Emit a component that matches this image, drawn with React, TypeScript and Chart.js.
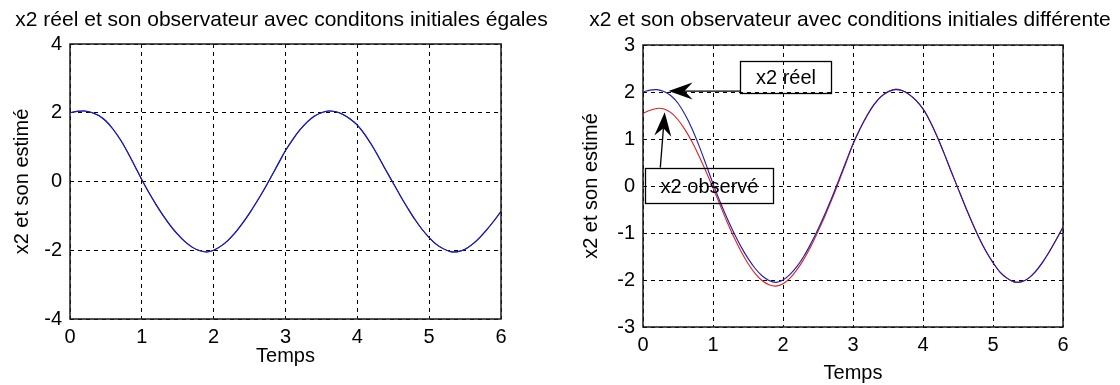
import React, { useEffect, useRef } from 'react';
import { Chart, registerables } from 'chart.js';

Chart.register(...registerables);

// ---------------- Data ----------------
const TIME = [
  0.0, 0.1, 0.2, 0.3, 0.4, 0.5, 0.6, 0.7, 0.8, 0.9,
  1.0, 1.1, 1.2, 1.3, 1.4, 1.5, 1.6, 1.7, 1.8, 1.9,
  2.0, 2.1, 2.2, 2.3, 2.4, 2.5, 2.6, 2.7, 2.8, 2.9,
  3.0, 3.1, 3.2, 3.3, 3.4, 3.5, 3.6, 3.7, 3.8, 3.9,
  4.0, 4.1, 4.2, 4.3, 4.4, 4.5, 4.6, 4.7, 4.8, 4.9,
  5.0, 5.1, 5.2, 5.3, 5.4, 5.5, 5.6, 5.7, 5.8, 5.9,
  6.0,
];

// x2 réel (same on both plots)
const X2_REEL = [
  2.00, 2.04, 2.05, 2.01, 1.92, 1.76, 1.52, 1.22, 0.86, 0.46,
  0.05, -0.33, -0.68, -1.00, -1.29, -1.54, -1.75, -1.91, -2.01, -2.05,
  -2.00, -1.88, -1.71, -1.49, -1.22, -0.92, -0.59, -0.24, 0.14, 0.52,
  0.90, 1.22, 1.50, 1.73, 1.90, 2.00, 2.05, 2.03, 1.95, 1.82,
  1.64, 1.38, 1.06, 0.70, 0.32, -0.05, -0.42, -0.77, -1.10, -1.39,
  -1.63, -1.83, -1.96, -2.04, -2.04, -1.97, -1.83, -1.64, -1.41, -1.15,
  -0.87,
];

// x2 observé, initial conditions equal (left plot)
const X2_OBS_EGAL = X2_REEL;

// x2 observé, initial conditions different (right plot)
const X2_OBS_DIFF = [
  1.55, 1.61, 1.65, 1.64, 1.56, 1.41, 1.20, 0.94, 0.64, 0.31,
  -0.04, -0.40, -0.76, -1.09, -1.39, -1.65, -1.86, -2.01, -2.10, -2.13,
  -2.08, -1.96, -1.78, -1.55, -1.28, -0.97, -0.64, -0.28, 0.10, 0.49,
  0.88, 1.21, 1.49, 1.73, 1.90, 2.01, 2.06, 2.03, 1.95, 1.82,
  1.64, 1.38, 1.06, 0.70, 0.32, -0.05, -0.42, -0.77, -1.10, -1.39,
  -1.63, -1.83, -1.96, -2.04, -2.04, -1.97, -1.83, -1.64, -1.41, -1.15,
  -0.87,
];

const X_TICKS = [0, 1, 2, 3, 4, 5, 6];
const Y_TICKS_LEFT = [-4, -2, 0, 2, 4];
const Y_TICKS_RIGHT = [-3, -2, -1, 0, 1, 2, 3];

const TITLE_LEFT = 'x2 réel et son observateur avec conditons initiales égales';
const TITLE_RIGHT = 'x2 et son observateur avec conditions initiales différente';
const X_LABEL = 'Temps';
const Y_LABEL = 'x2 et son estimé';

// annotations (data coordinates of the right plot)
const ANNOT_REEL = { text: 'x2 réel', x0: 1.39, x1: 2.69, y0: 1.97, y1: 2.66, tail: [1.39, 2.02], head: [0.365, 2.02] };
const ANNOT_OBS = { text: 'x2 observé', x0: 0.033, x1: 1.856, y0: -0.37, y1: 0.39, tail: [0.247, 0.39], head: [0.31, 1.57] };

// ---------------- Styling helpers ----------------
const FONT = '"Liberation Sans", Arial, Helvetica, sans-serif';
const BLUE = '#1c1cb0';
const RED = '#e02020';

const pts = (ys: number[]) => TIME.map((t, i) => ({ x: t, y: ys[i] }));

const framePlugin = {
  id: 'frame',
  afterDraw(chart: any, _args: any, opts: any) {
    const { ctx, chartArea: a } = chart;
    ctx.save();
    ctx.strokeStyle = '#1a1a1a';
    ctx.lineWidth = 1.5;
    ctx.strokeRect(Math.round(a.left), Math.round(a.top), Math.round(a.right - a.left), Math.round(a.bottom - a.top));
    ctx.fillStyle = '#000';
    ctx.font = `21px ${FONT}`;
    ctx.textAlign = 'center';
    ctx.textBaseline = 'middle';
    ctx.fillText(opts.title, (a.left + a.right) / 2 + (opts.dx || 0), opts.titleY);
    ctx.restore();
  },
};

function drawArrow(ctx: CanvasRenderingContext2D, tx: number, ty: number, hx: number, hy: number) {
  const dx = hx - tx, dy = hy - ty;
  const len = Math.hypot(dx, dy);
  const ux = dx / len, uy = dy / len;
  const nx = -uy, ny = ux;
  const L = 24, W = 8.5, N = 16;
  ctx.beginPath();
  ctx.moveTo(tx, ty);
  ctx.lineTo(hx - ux * N, hy - uy * N);
  ctx.stroke();
  ctx.beginPath();
  ctx.moveTo(hx, hy);
  ctx.lineTo(hx - ux * L + nx * W, hy - uy * L + ny * W);
  ctx.lineTo(hx - ux * N, hy - uy * N);
  ctx.lineTo(hx - ux * L - nx * W, hy - uy * L - ny * W);
  ctx.closePath();
  ctx.fill();
}

const annotPlugin = {
  id: 'annot',
  afterDraw(chart: any, _args: any, opts: any) {
    if (!opts.items) return;
    const { ctx } = chart;
    const xs = chart.scales.x, ys = chart.scales.y;
    ctx.save();
    ctx.strokeStyle = '#000';
    ctx.fillStyle = '#000';
    ctx.lineWidth = 1.3;
    for (const a of opts.items) {
      const l = Math.round(xs.getPixelForValue(a.x0)) + 0.5;
      const r = Math.round(xs.getPixelForValue(a.x1)) + 0.5;
      const t = Math.round(ys.getPixelForValue(a.y1)) + 0.5;
      const b = Math.round(ys.getPixelForValue(a.y0)) + 0.5;
      ctx.strokeRect(l, t, r - l, b - t);
      ctx.font = `20px ${FONT}`;
      ctx.textAlign = 'center';
      ctx.textBaseline = 'middle';
      ctx.fillText(a.text, (l + r) / 2, (t + b) / 2 + 1);
      drawArrow(
        ctx,
        xs.getPixelForValue(a.tail[0]), ys.getPixelForValue(a.tail[1]),
        xs.getPixelForValue(a.head[0]), ys.getPixelForValue(a.head[1])
      );
    }
    ctx.restore();
  },
};

function buildConfig(o: any) {
  const tickFont = { family: FONT, size: 20 };
  return {
    type: 'line',
    data: {
      datasets: o.datasets.map((d: any) => ({
        data: pts(d.values),
        borderColor: d.color,
        borderWidth: 1.1,
        pointRadius: 0,
        tension: 0.35,
        fill: false,
      })),
    },
    options: {
      animation: false,
      responsive: false,
      events: [],
      layout: { padding: { left: o.padLeft, right: o.padRight, top: o.padTop, bottom: 0 } },
      plugins: {
        legend: { display: false },
        tooltip: { enabled: false },
        frame: { title: o.title, titleY: o.titleY, dx: o.titleDx },
        annot: { items: o.annotations },
      },
      scales: {
        x: {
          type: 'linear',
          min: 0,
          max: 6,
          afterBuildTicks: (s: any) => { s.ticks = X_TICKS.map((v) => ({ value: v })); },
          ticks: { color: '#000', font: tickFont, padding: o.xTickPad, maxRotation: 0, autoSkip: false },
          grid: { color: '#000', lineWidth: 1, drawTicks: false },
          border: { display: false, dash: [4, 4] },
          title: { display: true, text: X_LABEL, color: '#000', font: tickFont, padding: { top: 0, bottom: o.xTitlePad } },
          afterFit: (s: any) => { s.height = o.xHeight; },
        },
        y: {
          type: 'linear',
          min: o.yTicks[0],
          max: o.yTicks[o.yTicks.length - 1],
          afterBuildTicks: (s: any) => { s.ticks = o.yTicks.map((v: number) => ({ value: v })); },
          ticks: { color: '#000', font: tickFont, padding: 8, autoSkip: false },
          grid: { color: '#000', lineWidth: 1, drawTicks: false },
          border: { display: false, dash: [4, 4] },
          title: { display: true, text: Y_LABEL, color: '#000', font: tickFont, padding: { top: 5, bottom: 0 } },
          afterFit: (s: any) => { s.width = o.yWidth; },
        },
      },
    },
    plugins: [framePlugin, annotPlugin],
  } as any;
}

export default function App() {
  const leftRef = useRef<HTMLCanvasElement>(null);
  const rightRef = useRef<HTMLCanvasElement>(null);

  useEffect(() => {
    document.body.style.margin = '0';
    const c1 = new Chart(
      leftRef.current as HTMLCanvasElement,
      buildConfig({
        datasets: [
          { values: X2_REEL, color: BLUE },
          { values: X2_OBS_EGAL, color: BLUE },
        ],
        yTicks: Y_TICKS_LEFT,
        title: TITLE_LEFT,
        titleY: 20,
        titleDx: -4,
        padLeft: 5,
        padRight: 59,
        padTop: 44,
        yWidth: 65,
        xHeight: 66,
        xTickPad: 6,
        xTitlePad: 17,
        annotations: null,
      })
    );
    const c2 = new Chart(
      rightRef.current as HTMLCanvasElement,
      buildConfig({
        datasets: [
          { values: X2_REEL, color: BLUE },
          { values: X2_OBS_DIFF, color: RED },
        ],
        yTicks: Y_TICKS_RIGHT,
        title: TITLE_RIGHT,
        titleY: 20,
        titleDx: -3,
        padLeft: 14,
        padRight: 57,
        padTop: 45,
        yWidth: 69,
        xHeight: 58,
        xTickPad: 6,
        xTitlePad: 0,
        annotations: [ANNOT_REEL, ANNOT_OBS],
      })
    );
    return () => {
      c1.destroy();
      c2.destroy();
    };
  }, []);

  return (
    <div style={{ position: 'relative', width: 1120, height: 385, background: '#fff', overflow: 'hidden' }}>
      <canvas ref={leftRef} width={560} height={385} style={{ position: 'absolute', left: 0, top: 0, width: 560, height: 385 }} />
      <canvas ref={rightRef} width={560} height={385} style={{ position: 'absolute', left: 560, top: 0, width: 560, height: 385 }} />
    </div>
  );
}
